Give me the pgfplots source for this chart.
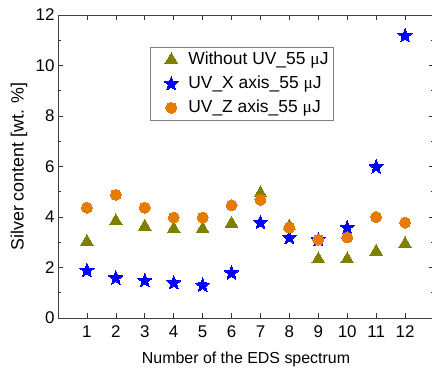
\documentclass[border=0pt]{standalone}
\usepackage{pgfplots}
\pgfplotsset{compat=1.18}
\usepackage{fontspec}
\setmainfont{Liberation Sans}
\newfontfamily\seriffont{Liberation Serif}
\definecolor{olv}{RGB}{128,128,0}
\definecolor{blu}{RGB}{0,0,255}
\definecolor{org}{RGB}{228,124,0}
\newcommand{\uJ}{{\seriffont μ}J}
\pgfdeclareplotmark{fstar}{%
 \pgfpathmoveto{\pgfqpointpolar{90}{\pgfplotmarksize}}%
 \pgfpathlineto{\pgfqpointpolar{126}{0.42\pgfplotmarksize}}%
 \pgfpathlineto{\pgfqpointpolar{162}{\pgfplotmarksize}}%
 \pgfpathlineto{\pgfqpointpolar{198}{0.42\pgfplotmarksize}}%
 \pgfpathlineto{\pgfqpointpolar{234}{\pgfplotmarksize}}%
 \pgfpathlineto{\pgfqpointpolar{270}{0.42\pgfplotmarksize}}%
 \pgfpathlineto{\pgfqpointpolar{306}{\pgfplotmarksize}}%
 \pgfpathlineto{\pgfqpointpolar{342}{0.42\pgfplotmarksize}}%
 \pgfpathlineto{\pgfqpointpolar{18}{\pgfplotmarksize}}%
 \pgfpathlineto{\pgfqpointpolar{54}{0.42\pgfplotmarksize}}%
 \pgfpathclose\pgfusepathqfillstroke}
\begin{document}
\begin{tikzpicture}
\begin{axis}[
 scale only axis, width=376bp, height=303bp,
 xmin=0, xmax=13, ymin=0, ymax=12,
 xtick={1,...,12}, ytick={0,2,...,12}, minor y tick num=1,
 tick align=inside, major tick length=5bp, minor tick length=3bp,
 tick style={black!80, line width=0.6pt},
 axis line style={line width=0.8pt, black!75},
 ticklabel style={font=\fontsize{17}{19}\selectfont},
 xticklabel style={yshift=-4bp},
 /pgf/number format/assume math mode=true,
 xlabel={Number of the EDS spectrum}, ylabel={Silver content [wt. \%]},
 xlabel style={font=\fontsize{16}{19}\selectfont, at={(axis description cs:0.5,-0.135)}, anchor=center},
 ylabel style={font=\fontsize{17.9}{19}\selectfont, at={(axis description cs:-0.104,0.5)}, anchor=center},
 legend style={at={(axis description cs:0.245,0.894)}, anchor=north west, draw=black!50, font=\fontsize{17.5}{19}\selectfont,
   inner xsep=3bp, inner ysep=2bp, row sep=3bp, nodes={inner sep=2bp, text height=13bp, text depth=4bp}},
 legend cell align=left,
 legend image code/.code={\path[draw=none] (0bp,0bp) -- (33bp,0bp); \path[draw=none,#1] plot[only marks, draw=none] coordinates {(18bp,0bp)};},
 clip=false,
]
\addplot[only marks, mark=triangle*, mark size=7.3bp, color=olv, mark options={draw=olv, fill=olv, line width=0pt}] coordinates {
(1,3.02) (2,3.84) (3,3.62) (4,3.53) (5,3.53) (6,3.74) (7,4.94) (8,3.63) (9,2.33) (10,2.33) (11,2.63) (12,2.93)};
\addlegendentry{Without UV\_55 \uJ}
\addplot[only marks, mark=fstar, mark size=7.5bp, color=blu, mark options={fill=blu, draw=blu, line width=0pt}] coordinates {
(1,1.88) (2,1.58) (3,1.48) (4,1.39) (5,1.29) (6,1.78) (7,3.78) (8,3.18) (9,3.1) (10,3.58) (11,5.98) (12,11.18)};
\addlegendentry{UV\_X axis\_55 \uJ}
\addplot[only marks, mark=*, mark size=5.5bp, color=org, mark options={draw=org, fill=org, line width=0pt}] coordinates {
(1,4.37) (2,4.88) (3,4.37) (4,3.98) (5,3.98) (6,4.46) (7,4.68) (8,3.58) (9,3.1) (10,3.19) (11,4.0) (12,3.78)};
\addlegendentry{UV\_Z axis\_55 \uJ}
\coordinate (sw) at (rel axis cs:0,0);
\coordinate (ne) at (rel axis cs:1,1);
\end{axis}
\pgfresetboundingbox
\path[use as bounding box] ([xshift=-58bp,yshift=-54bp]sw) rectangle ([xshift=-2bp,yshift=15bp]ne);
\end{tikzpicture}
\end{document}
